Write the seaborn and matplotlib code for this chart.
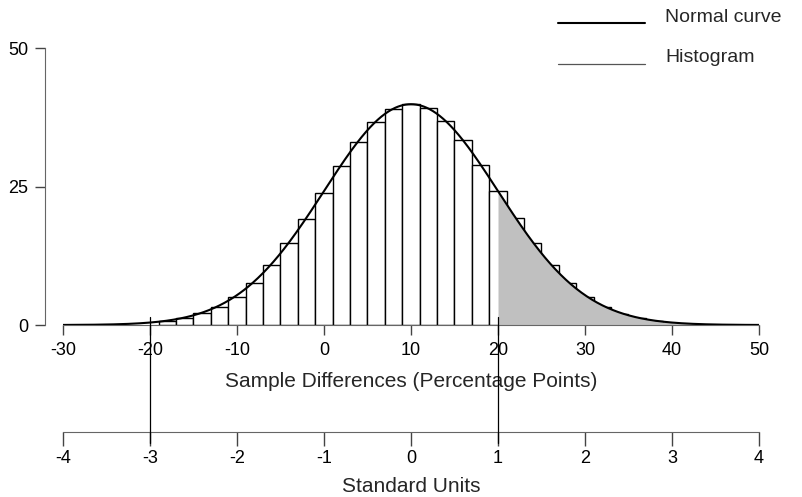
import numpy as np
import matplotlib
matplotlib.use("Agg")
import matplotlib.pyplot as plt
from matplotlib.lines import Line2D
import seaborn as sns

# ---- data ----
bar_centers = [-18, -16, -14, -12, -10, -8, -6, -4, -2, 0, 2, 4, 6, 8, 10,
               12, 14, 16, 18, 20, 22, 24, 26, 28, 30, 32, 34, 36, 38]
bar_heights = [0.7, 1.2, 2.1, 3.3, 5.1, 7.6, 10.8, 14.8, 19.1, 23.8, 28.7, 33.0,
               36.6, 39.0, 39.9, 39.2, 36.9, 33.4, 29.0, 24.2, 19.3, 14.9, 10.8,
               7.5, 5.0, 3.2, 1.9, 1.2, 0.7]
bar_width = 2
curve_mean = 10      # percentage points
curve_sd = 10        # percentage points
curve_peak = 39.9
shade_from = 20
marker_values = [-20, 20]
x_ticks = [-30, -20, -10, 0, 10, 20, 30, 40, 50]
y_ticks = [0, 25, 50]
su_ticks = [-4, -3, -2, -1, 0, 1, 2, 3, 4]
legend_labels = ["Normal curve", "Histogram"]

sns.set_style("ticks")
plt.rcParams["font.family"] = ["Liberation Sans", "DejaVu Sans"]

W, H = 803, 497
fig = plt.figure(figsize=(W / 100, H / 100), dpi=100)
ax_h = 276.7
ax = fig.add_axes([63 / W, 1 - 325 / H, 696 / W, ax_h / H])

edges = [c - bar_width / 2 for c in bar_centers] + [bar_centers[-1] + bar_width / 2]
sns.histplot(x=bar_centers, weights=bar_heights, bins=edges, ax=ax,
             color="white", edgecolor="black", linewidth=1.0, alpha=1, zorder=1)

xs = np.linspace(-30, 50, 801)
ys = curve_peak * np.exp(-0.5 * ((xs - curve_mean) / curve_sd) ** 2)
mask = xs >= shade_from
ax.fill_between(xs[mask], ys[mask], 0, color="#c0c0c0", linewidth=0, zorder=2)
sns.lineplot(x=xs, y=ys, ax=ax, color="black", linewidth=1.5, zorder=3)

for v in marker_values:
    ax.axvline(v, ymin=(325 - 443) / ax_h, ymax=(325 - 317) / ax_h,
               color="black", linewidth=0.9, clip_on=False, zorder=4)

ax.set_xlim(-30, 50)
ax.set_ylim(0, 50)
ax.set_xticks(x_ticks)
ax.set_xticklabels([str(t) for t in x_ticks])
ax.set_yticks(y_ticks)
ax.set_yticklabels([str(t) for t in y_ticks])
ax.set_ylabel("")
for s in ["top", "right"]:
    ax.spines[s].set_visible(False)
ax.spines["left"].set_position(("outward", 13))
ax.spines["left"].set_bounds(0, 50)
ax.spines["left"].set_color("#666666")
ax.spines["bottom"].set_color("#666666")
ax.tick_params(axis="both", labelsize=13, colors="#444444", labelcolor="black",
               length=7, width=1)
ax.tick_params(axis="x", pad=5)
ax.tick_params(axis="y", pad=5)
ax.set_xlabel("Sample Differences (Percentage Points)", fontsize=15, labelpad=9.5)

sec = ax.secondary_xaxis((325 - 432) / ax_h,
                         functions=(lambda x: (x - curve_mean) / curve_sd,
                                    lambda z: z * curve_sd + curve_mean))
sec.set_xticks(su_ticks)
sec.set_xticklabels([str(t) for t in su_ticks])
sec.spines["bottom"].set_color("#666666")
sec.tick_params(axis="x", labelsize=13, colors="#444444", labelcolor="black",
                length=10, width=1, pad=3)
sec.set_xlabel("Standard Units", fontsize=15, labelpad=7.5)

# legend (drawn by hand so the sample lines sit a little below the text)
legend_styles = [dict(color="black", linewidth=1.5),
                 dict(color="#555555", linewidth=0.9)]
for i, (lab, st) in enumerate(zip(legend_labels, legend_styles)):
    y_line = 1 - (23 + 41 * i) / H
    y_text = 1 - (17 + 41 * i) / H
    fig.add_artist(Line2D([558 / W, 645 / W], [y_line, y_line],
                          transform=fig.transFigure, **st))
    fig.text(665 / W, y_text, lab, fontsize=14, va="center", ha="left")

fig.savefig("out.png", dpi=100)
